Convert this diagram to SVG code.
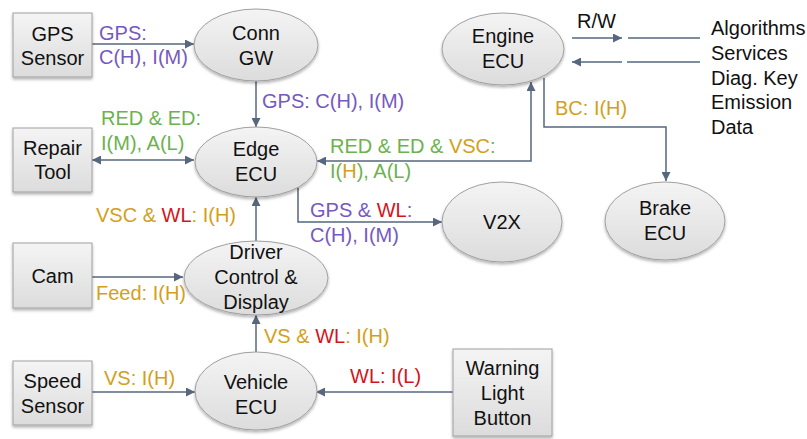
<svg xmlns="http://www.w3.org/2000/svg" width="807" height="439" viewBox="0 0 807 439">
<defs>
  <linearGradient id="g" x1="0" y1="0" x2="0" y2="1">
    <stop offset="0" stop-color="#f4f4f4"/>
    <stop offset="1" stop-color="#dcdcdc"/>
  </linearGradient>
  <filter id="sh" x="-20%" y="-20%" width="140%" height="150%">
    <feDropShadow dx="0" dy="2" stdDeviation="1.5" flood-color="#000" flood-opacity="0.3"/>
  </filter>
  <marker id="ah" viewBox="0 0 10 10" refX="10" refY="5" markerWidth="9" markerHeight="9" markerUnits="userSpaceOnUse" orient="auto-start-reverse">
    <path d="M0,0 L10,5 L0,10 z" fill="#56677e"/>
  </marker>
</defs>
<style>
  .box{fill:url(#g);stroke:#a0a0a0;stroke-width:1;filter:url(#sh)}
  .ell{fill:url(#g);stroke:#a0a0a0;stroke-width:1;filter:url(#sh)}
  .t{font-family:"Liberation Sans",Arial,sans-serif;font-size:20px;fill:#111;text-anchor:middle}
  .l{font-family:"Liberation Sans",Arial,sans-serif;font-size:20px}
  .c{fill:none;stroke:#56677e;stroke-width:1.5}
  .pu{fill:#7659c0}
  .gr{fill:#6cb24e}
  .go{fill:#d3a01c}
  .rd{fill:#d4141c}
  .bk{fill:#111}
</style>
<g id="connectors">
  <path class="c" d="M92,44 H194" marker-end="url(#ah)"/>
  <path class="c" d="M256,81 V127" marker-end="url(#ah)"/>
  <path class="c" d="M92,160 H194" marker-start="url(#ah)" marker-end="url(#ah)"/>
  <path class="c" d="M531,82 V161 H317" marker-start="url(#ah)" marker-end="url(#ah)"/>
  <path class="c" d="M544,78 V127 H666 V181" marker-end="url(#ah)"/>
  <path class="c" d="M298,188 V222 H442" marker-end="url(#ah)"/>
  <path class="c" d="M256,241 V197" marker-end="url(#ah)"/>
  <path class="c" d="M92,277 H183" marker-end="url(#ah)"/>
  <path class="c" d="M256,352 V315" marker-end="url(#ah)"/>
  <path class="c" d="M92,392 H195" marker-end="url(#ah)"/>
  <path class="c" d="M453,392 H316" marker-end="url(#ah)"/>
  <path class="c" d="M572,38 H622" marker-end="url(#ah)"/>
  <path class="c" d="M628,38 H700"/>
  <path class="c" d="M622,62 H572" marker-end="url(#ah)"/>
  <path class="c" d="M627,62 H700"/>
</g>
<g id="labels">
  <text class="l pu" x="99" y="40">GPS:</text>
  <text class="l pu" x="99" y="64">C(H), I(M)</text>
  <text class="l pu" x="262" y="108">GPS: C(H), I(M)</text>
  <text class="l gr" x="101" y="125">RED &amp; ED:</text>
  <text class="l gr" x="101" y="150">I(M), A(L)</text>
  <text class="l" x="330" y="153"><tspan class="gr">RED &amp; ED &amp; </tspan><tspan class="go">VSC</tspan><tspan class="gr">:</tspan></text>
  <text class="l" x="330" y="178"><tspan class="gr">I(</tspan><tspan class="go">H</tspan><tspan class="gr">), A(L)</tspan></text>
  <text class="l" x="96" y="222"><tspan class="go">VSC &amp; </tspan><tspan class="rd">WL</tspan><tspan class="go">: I(H)</tspan></text>
  <text class="l" x="310" y="217"><tspan class="pu">GPS &amp; </tspan><tspan class="rd">WL</tspan><tspan class="pu">:</tspan></text>
  <text class="l pu" x="310" y="242">C(H), I(M)</text>
  <text class="l go" x="96" y="300">Feed: I(H)</text>
  <text class="l" x="264" y="343"><tspan class="go">VS &amp; </tspan><tspan class="rd">WL</tspan><tspan class="go">: I(H)</tspan></text>
  <text class="l go" x="104" y="385">VS: I(H)</text>
  <text class="l rd" x="350" y="383">WL: I(L)</text>
  <text class="l go" x="555" y="115">BC: I(H)</text>
  <text class="l bk" x="577" y="28">R/W</text>
  <text class="l bk" x="711" y="35">Algorithms</text>
  <text class="l bk" x="711" y="60">Services</text>
  <text class="l bk" x="711" y="85">Diag. Key</text>
  <text class="l bk" x="711" y="109">Emission</text>
  <text class="l bk" x="711" y="134">Data</text>
</g>
<g id="gps-sensor">
  <rect class="box" x="13" y="13" width="79" height="64"/>
  <text class="t" x="52.5" y="41">GPS</text>
  <text class="t" x="52.5" y="65">Sensor</text>
</g>
<g id="conn-gw">
  <ellipse class="ell" cx="256" cy="45" rx="62" ry="36"/>
  <text class="t" x="256" y="40">Conn</text>
  <text class="t" x="256" y="65">GW</text>
</g>
<g id="repair-tool">
  <rect class="box" x="13" y="128" width="79" height="64"/>
  <text class="t" x="52.5" y="155">Repair</text>
  <text class="t" x="52.5" y="179">Tool</text>
</g>
<g id="edge-ecu">
  <ellipse class="ell" cx="256" cy="162" rx="61" ry="35"/>
  <text class="t" x="256" y="156">Edge</text>
  <text class="t" x="256" y="181">ECU</text>
</g>
<g id="engine-ecu">
  <ellipse class="ell" cx="503" cy="49" rx="61" ry="36"/>
  <text class="t" x="503" y="43">Engine</text>
  <text class="t" x="503" y="68">ECU</text>
</g>
<g id="brake-ecu">
  <ellipse class="ell" cx="665" cy="221" rx="60" ry="39"/>
  <text class="t" x="665" y="215">Brake</text>
  <text class="t" x="665" y="240">ECU</text>
</g>
<g id="v2x">
  <ellipse class="ell" cx="502" cy="222" rx="60" ry="40"/>
  <text class="t" x="502" y="229">V2X</text>
</g>
<g id="cam">
  <rect class="box" x="13" y="243" width="79" height="65"/>
  <text class="t" x="52.5" y="283">Cam</text>
</g>
<g id="driver-control">
  <ellipse class="ell" cx="256" cy="278" rx="72" ry="37"/>
  <text class="t" x="256" y="259">Driver</text>
  <text class="t" x="256" y="284">Control &amp;</text>
  <text class="t" x="256" y="309">Display</text>
</g>
<g id="speed-sensor">
  <rect class="box" x="13" y="361" width="79" height="64"/>
  <text class="t" x="52.5" y="388">Speed</text>
  <text class="t" x="52.5" y="413">Sensor</text>
</g>
<g id="vehicle-ecu">
  <ellipse class="ell" cx="256" cy="391" rx="61" ry="39"/>
  <text class="t" x="256" y="389">Vehicle</text>
  <text class="t" x="256" y="414">ECU</text>
</g>
<g id="warning-light">
  <rect class="box" x="453" y="349" width="99" height="87"/>
  <text class="t" x="502.5" y="375">Warning</text>
  <text class="t" x="502.5" y="400">Light</text>
  <text class="t" x="502.5" y="425">Button</text>
</g>
</svg>
